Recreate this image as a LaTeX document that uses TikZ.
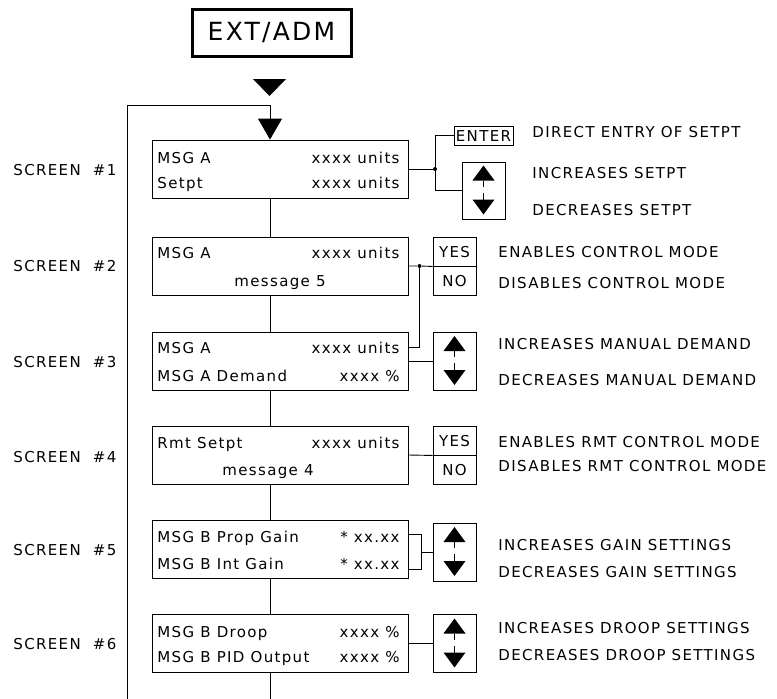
\documentclass[tikz,border=0pt]{standalone}
\usepackage{fontspec}
\setmainfont{DejaVu Sans}[LetterSpace=9]
\usetikzlibrary{arrows.meta,calc}
\begin{document}
\begin{tikzpicture}[x=1pt,y=-1pt,line width=0.9pt,
  screen/.style={draw,minimum width=256pt,minimum height=58pt,inner sep=0pt},
  txt/.style={inner sep=0pt,text height=11pt,text depth=0pt,font=\fontsize{15}{18}\selectfont},
  ltxt/.style={txt,anchor=west},
  rtxt/.style={txt,anchor=east},
  btn/.style={draw,txt,minimum width=43pt,minimum height=29pt},
  arrbox/.style={draw,minimum width=43pt,minimum height=58pt,inner sep=0pt},
  dot/.style={circle,fill,inner sep=0pt,minimum size=4pt}]
\useasboundingbox (0,0) rectangle (777,699);

% title
\node[draw,line width=3pt,minimum width=159pt,minimum height=47pt,inner sep=0pt,
  font=\fontsize{25}{30}\selectfont] (title) at (271.5,32.5) {EXT/ADM};
\fill (253,79) -- (286,79) -- (269.5,96) -- cycle;

% screens
\node[screen] (s1) at (280,169) {};
\node[screen] (s2) at (280,266) {};
\node[screen] (s3) at (280,361) {};
\node[screen] (s4) at (280,455) {};
\node[screen] (s5) at (280,549) {};
\node[screen] (s6) at (280,643.5) {};

% screen texts
\node[ltxt] (s1a) at (157,157.5) {MSG A};
\node[rtxt] (s1b) at (400,157.5) {xxxx units};
\node[ltxt] (s1c) at (157,183) {Setpt};
\node[rtxt] (s1d) at (400,183) {xxxx units};

\node[ltxt] (s2a) at (157,253) {MSG A};
\node[rtxt] (s2b) at (400,253) {xxxx units};
\node[txt] (s2c) at (280,281) {message 5};

\node[ltxt] (s3a) at (157,348) {MSG A};
\node[rtxt] (s3b) at (400,348) {xxxx units};
\node[ltxt] (s3c) at (157,375.5) {MSG A Demand};
\node[rtxt] (s3d) at (400,375.5) {xxxx \%};

\node[ltxt] (s4a) at (157,443) {Rmt Setpt};
\node[rtxt] (s4b) at (400,443) {xxxx units};
\node[txt] (s4c) at (268,470) {message 4};

\node[ltxt] (s5a) at (157,537) {MSG B Prop Gain};
\node[rtxt] (s5b) at (400,537) {* xx.xx};
\node[ltxt] (s5c) at (157,564) {MSG B Int Gain};
\node[rtxt] (s5d) at (400,564) {* xx.xx};

\node[ltxt] (s6a) at (157,631.5) {MSG B Droop};
\node[rtxt] (s6b) at (400,631.5) {xxxx \%};
\node[ltxt] (s6c) at (157,657) {MSG B PID Output};
\node[rtxt] (s6d) at (400,657) {xxxx \%};

% screen labels
\foreach \n/\y in {1/170,2/266,3/362,4/456.5,5/550,6/644}{
  \node[ltxt] (lab\n) at (13,\y) {SCREEN\hspace{6pt} \#\n};
}

% loop and vertical connectors
\coordinate (lb) at (127,699);
\coordinate (lt) at (127,105);
\coordinate (lr) at (270,105);
\coordinate (bot) at (270,699);
\draw (lb) -- (lt) -- (lr);
\draw[-{Triangle[width=24pt,length=21pt]}] (lr) -- (lr |- s1.north);
\draw (s1.south -| lr) -- (s2.north -| lr);
\draw (s2.south -| lr) -- (s3.north -| lr);
\draw (s3.south -| lr) -- (s4.north -| lr);
\draw (s4.south -| lr) -- (s5.north -| lr);
\draw (s5.south -| lr) -- (s6.north -| lr);
\draw (s6.south -| lr) -- (bot);

% screen 1 keys
\node[btn,minimum width=59pt,minimum height=19pt] (enter) at (483.5,135.5) {ENTER};
\node[arrbox,minimum height=57pt] (a1) at (483.5,190.5) {};
\node[dot] (j1) at (435,169) {};
\draw (s1.east) -- (j1);
\draw (j1) |- (enter.west);
\draw (j1) |- (a1.west);
\node[ltxt] (t1a) at (532,132) {DIRECT ENTRY OF SETPT};
\node[ltxt] (t1b) at (532,173) {INCREASES SETPT};
\node[ltxt] (t1c) at (532,210) {DECREASES SETPT};

% screen 2 keys
\node[btn] (yes2) at (454.5,251.5) {YES};
\node[btn] (no2) at (454.5,280.5) {NO};
\node[dot] (j2) at (419.5,266) {};
\coordinate (s3r) at (408,347.5);
\draw (s2.east) -- (j2) -- (yes2.south west);
\draw (j2) |- (s3r);
\node[ltxt] (t2a) at (498,252) {ENABLES CONTROL MODE};
\node[ltxt] (t2b) at (498,283) {DISABLES CONTROL MODE};

% screen 3 keys
\node[arrbox] (a3) at (454.5,361) {};
\draw (s3.east) -- (a3.west);
\node[ltxt] (t3a) at (498,344) {INCREASES MANUAL DEMAND};
\node[ltxt] (t3b) at (498,380) {DECREASES MANUAL DEMAND};

% screen 4 keys
\node[btn] (yes4) at (454.5,440.5) {YES};
\node[btn] (no4) at (454.5,469.5) {NO};
\draw (s4.east) -- (yes4.south west);
\node[ltxt] (t4a) at (498,442) {ENABLES RMT CONTROL MODE};
\node[ltxt] (t4b) at (498,466) {DISABLES RMT CONTROL MODE};

% screen 5 keys
\node[arrbox] (a5) at (454.5,552) {};
\coordinate (b5a) at (408,534.5);
\coordinate (b5b) at (408,569);
\coordinate (b5m) at (421.5,552);
\draw (b5a) -| (b5m) |- (b5b);
\draw (b5m) -- (a5.west);
\node[ltxt] (t5a) at (498,545) {INCREASES GAIN SETTINGS};
\node[ltxt] (t5b) at (498,572) {DECREASES GAIN SETTINGS};

% screen 6 keys
\node[arrbox] (a6) at (454.5,643.5) {};
\draw (s6.east) -- (a6.west);
\node[ltxt] (t6a) at (498,628) {INCREASES DROOP SETTINGS};
\node[ltxt] (t6b) at (498,655) {DECREASES DROOP SETTINGS};

% up/down glyphs in arrow boxes
\foreach \b in {a1,a3,a5,a6}{
  \fill ($(\b.center)+(0,-25)$) -- ($(\b.center)+(11,-10)$) -- ($(\b.center)+(-11,-10)$) -- cycle;
  \draw ($(\b.center)+(0,-10)$) -- ($(\b.center)+(0,-4)$);
  \draw ($(\b.center)+(0,2)$) -- ($(\b.center)+(0,9)$);
  \fill ($(\b.center)+(0,24)$) -- ($(\b.center)+(11,9)$) -- ($(\b.center)+(-11,9)$) -- cycle;
}
\end{tikzpicture}
\end{document}
